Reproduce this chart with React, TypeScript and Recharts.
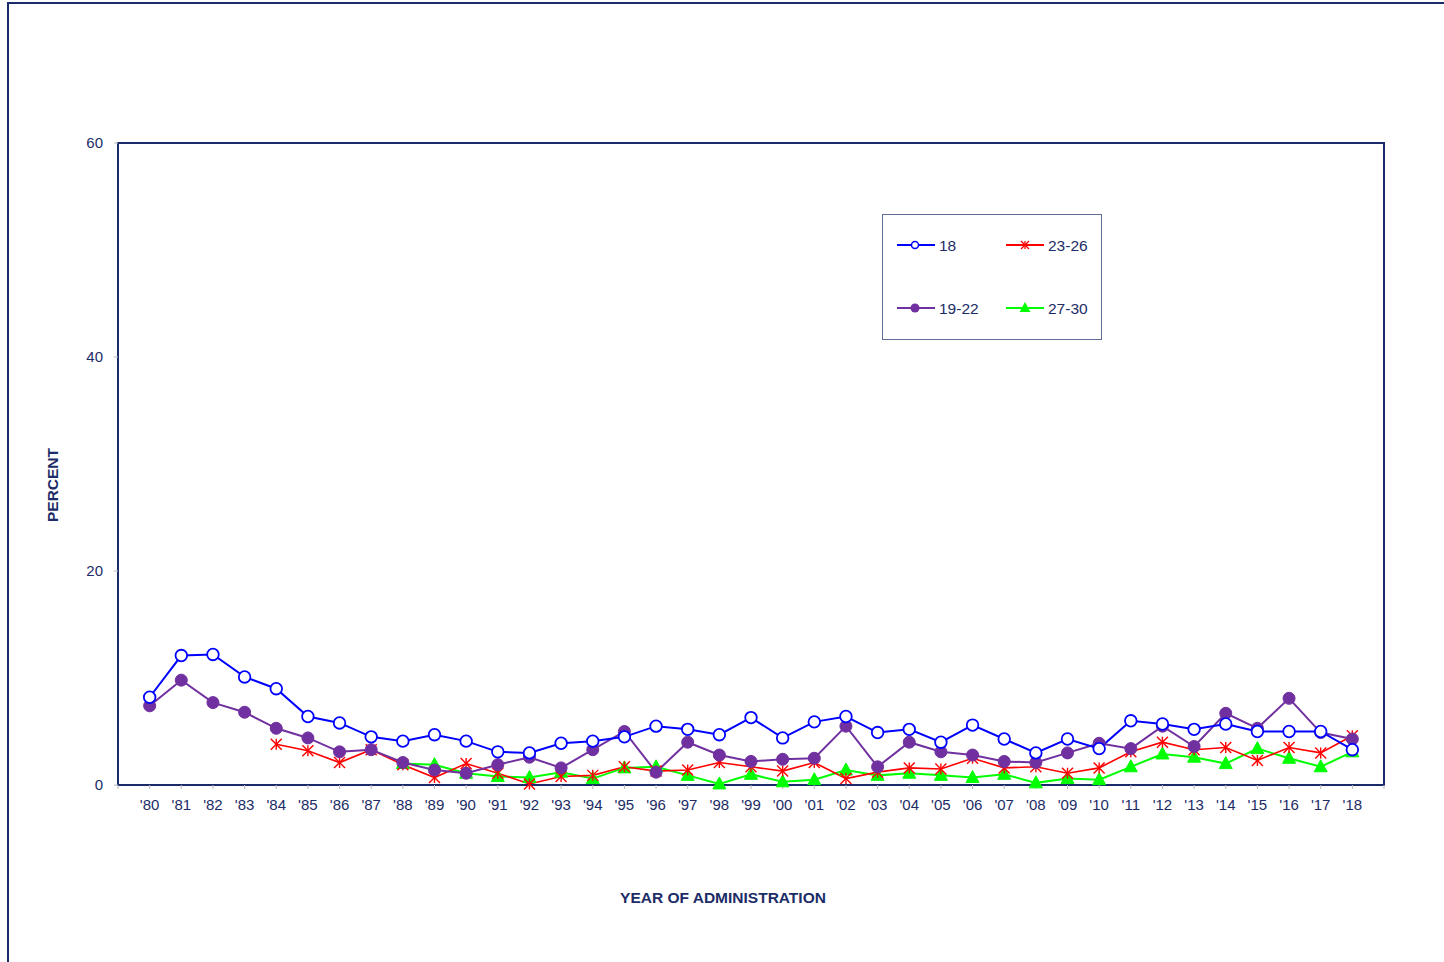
import { LineChart, Line, XAxis, YAxis, Legend, ReferenceArea } from 'recharts'

const NAVY = '#1b2a6b'
const TEXT = '#1c2c66'

const years = [
  1980, 1981, 1982, 1983, 1984, 1985, 1986, 1987, 1988, 1989,
  1990, 1991, 1992, 1993, 1994, 1995, 1996, 1997, 1998, 1999,
  2000, 2001, 2002, 2003, 2004, 2005, 2006, 2007, 2008, 2009,
  2010, 2011, 2012, 2013, 2014, 2015, 2016, 2017, 2018,
]

// age groups, percent
const age18 = [
  8.2, 12.1, 12.2, 10.1, 9.0, 6.4, 5.8, 4.5, 4.1, 4.7,
  4.1, 3.1, 3.0, 3.9, 4.1, 4.5, 5.5, 5.2, 4.7, 6.3,
  4.4, 5.9, 6.4, 4.9, 5.2, 4.0, 5.6, 4.3, 3.0, 4.3,
  3.4, 6.0, 5.7, 5.2, 5.7, 5.0, 5.0, 5.0, 3.3,
]
const age19to22 = [
  7.4, 9.8, 7.7, 6.8, 5.3, 4.4, 3.1, 3.3, 2.1, 1.4,
  1.1, 1.9, 2.6, 1.6, 3.3, 5.0, 1.2, 4.0, 2.8, 2.2,
  2.4, 2.5, 5.5, 1.7, 4.0, 3.1, 2.8, 2.2, 2.1, 3.0,
  3.9, 3.4, 5.5, 3.6, 6.7, 5.3, 8.1, 4.9, 4.3,
]
const age23to26 = [
  null, null, null, null, 3.8, 3.2, 2.1, 3.3, 1.9, 0.7,
  2.0, 1.1, 0.1, 0.8, 0.9, 1.7, 1.3, 1.4, 2.1, 1.7,
  1.3, 2.1, 0.6, 1.2, 1.6, 1.5, 2.5, 1.6, 1.7, 1.1,
  1.6, 3.1, 4.0, 3.3, 3.5, 2.3, 3.5, 3.0, 4.6,
]
const age27to30 = [
  null, null, null, null, null, null, null, null, 2.0, 1.9,
  1.1, 0.8, 0.7, 1.2, 0.6, 1.6, 1.7, 0.9, 0.1, 1.0,
  0.3, 0.5, 1.4, 0.9, 1.1, 0.9, 0.7, 1.0, 0.2, 0.6,
  0.5, 1.7, 2.9, 2.6, 2.0, 3.4, 2.5, 1.7, 3.1,
]

const yTicks = [0, 20, 40, 60]
const xTicks = [1979, ...years, 2019]

const data = years.map((year, i) => ({
  year,
  a18: age18[i],
  a19: age19to22[i],
  a23: age23to26[i],
  a27: age27to30[i],
}))

const OpenCircle = (p: any) => {
  if (p.cx == null || p.cy == null) return <g key={p.key} />
  return <circle key={p.key} cx={p.cx} cy={p.cy} r={5.8} fill="#fff" stroke="#0000ff" strokeWidth={1.8} />
}

const FilledCircle = (p: any) => {
  if (p.cx == null || p.cy == null) return <g key={p.key} />
  return <circle key={p.key} cx={p.cx} cy={p.cy} r={6} fill="#7030a0" stroke="#7030a0" />
}

const Star = (p: any) => {
  if (p.cx == null || p.cy == null) return <g key={p.key} />
  const s = 5.5
  const { cx, cy } = p
  return (
    <g key={p.key} stroke="#ff0000" strokeWidth={1.4}>
      <line x1={cx} y1={cy - s} x2={cx} y2={cy + s} />
      <line x1={cx - s} y1={cy - s} x2={cx + s} y2={cy + s} />
      <line x1={cx - s} y1={cy + s} x2={cx + s} y2={cy - s} />
    </g>
  )
}

const Triangle = (p: any) => {
  if (p.cx == null || p.cy == null) return <g key={p.key} />
  const { cx, cy } = p
  return (
    <polygon
      key={p.key}
      points={`${cx},${cy - 7} ${cx - 6.5},${cy + 5} ${cx + 6.5},${cy + 5}`}
      fill="#00ff00"
      stroke="#00ff00"
    />
  )
}

function LegendBox() {
  const item = (x: number, y: number, color: string, label: string, marker: React.ReactNode) => (
    <g>
      <line x1={x} y1={y} x2={x + 38} y2={y} stroke={color} strokeWidth={2} />
      {marker}
      <text x={x + 42} y={y + 5.5} fontSize={15.5} fill={TEXT}>{label}</text>
    </g>
  )
  return (
    <svg width={220} height={126} style={{ display: 'block' }}>
      <rect x={0.5} y={0.5} width={219} height={125} fill="#fff" stroke="#5d6c98" />
      {item(15, 31, '#0000ff', '18', <circle cx={33} cy={31} r={3.5} fill="#fff" stroke="#0000ff" strokeWidth={1.5} />)}
      {item(15, 94, '#7030a0', '19-22', <circle cx={33} cy={94} r={4.5} fill="#7030a0" />)}
      {item(124, 31, '#ff0000', '23-26', (
        <g stroke="#ff0000" strokeWidth={1.3}>
          <line x1={143} y1={27} x2={143} y2={35} />
          <line x1={139} y1={27} x2={147} y2={35} />
          <line x1={139} y1={35} x2={147} y2={27} />
        </g>
      ))}
      {item(124, 94, '#00ff00', '27-30', <polygon points="143,88 137.5,98 148.5,98" fill="#00ff00" />)}
    </svg>
  )
}

export default function App() {
  return (
    <div style={{ position: 'absolute', left: 0, top: 0, width: 1444, height: 962, background: '#fff', fontFamily: '"Liberation Sans", Arial, sans-serif', overflow: 'hidden' }}>
      <div style={{ position: 'absolute', left: 7, top: 2, width: 1500, height: 1000, borderLeft: `2px solid ${NAVY}`, borderTop: `2px solid ${NAVY}` }} />
      <div style={{ position: 'absolute', left: 0, top: 0 }}>
        <LineChart width={1444} height={962} data={data} margin={{ top: 143, right: 60, bottom: 147, left: 0 }}>
          <ReferenceArea x1={1979} x2={2019} y1={0} y2={60} fill="none" stroke={NAVY} strokeWidth={2} ifOverflow="visible" />
          <XAxis
            dataKey="year"
            type="number"
            domain={[1979, 2019]}
            ticks={xTicks}
            interval={0}
            height={30}
            tickFormatter={(y: number) => (y === 1979 || y === 2019 ? '' : "'" + String(y).slice(2))}
            tick={{ fontSize: 15, fill: TEXT }}
            tickSize={4}
            tickMargin={10}
            tickLine={{ stroke: '#b8b8b8' }}
            axisLine={{ stroke: NAVY, strokeWidth: 2 }}
          />
          <YAxis
            domain={[0, 60]}
            ticks={yTicks}
            width={118}
            tick={{ fontSize: 15, fill: TEXT }}
            tickSize={4}
            tickMargin={11}
            tickLine={{ stroke: '#b8b8b8' }}
            axisLine={{ stroke: NAVY, strokeWidth: 2 }}
          />
          <Legend
            layout="horizontal"
            verticalAlign="middle"
            align="center"
            content={() => <LegendBox />}
            wrapperStyle={{ left: 882, top: 214, width: 220, height: 126 }}
          />
          <Line dataKey="a27" name="27-30" stroke="#00ff00" strokeWidth={2} dot={Triangle} isAnimationActive={false} />
          <Line dataKey="a23" name="23-26" stroke="#ff0000" strokeWidth={1.6} dot={Star} isAnimationActive={false} />
          <Line dataKey="a19" name="19-22" stroke="#7030a0" strokeWidth={2} dot={FilledCircle} isAnimationActive={false} />
          <Line dataKey="a18" name="18" stroke="#0000ff" strokeWidth={2} dot={OpenCircle} isAnimationActive={false} />
        </LineChart>
      </div>
      <div style={{ position: 'absolute', left: 53, top: 485, transform: 'translate(-50%, -50%) rotate(-90deg)', fontSize: 15.5, fontWeight: 'bold', color: TEXT, whiteSpace: 'nowrap' }}>
        PERCENT
      </div>
      <div style={{ position: 'absolute', left: 723, top: 898, transform: 'translate(-50%, -50%)', fontSize: 15.5, fontWeight: 'bold', color: TEXT, whiteSpace: 'nowrap' }}>
        YEAR OF ADMINISTRATION
      </div>
    </div>
  )
}
